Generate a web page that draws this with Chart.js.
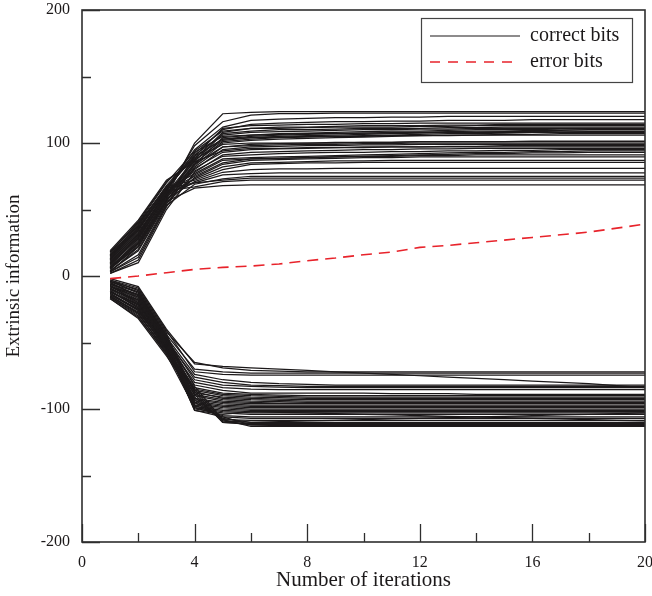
<!DOCTYPE html>
<html>
<head>
<meta charset="utf-8">
<script src="https://cdn.jsdelivr.net/npm/chart.js@4.4.1/dist/chart.umd.min.js"></script>
<style>
  html, body { margin: 0; padding: 0; background: #ffffff; }
  #wrap { width: 652px; height: 596px; }
</style>
</head>
<body>
<div id="wrap"><canvas id="c" width="652" height="596"></canvas></div>
<script>
// Iteration index shared by every trace
const iterations = [1,2,3,4,5,6,7,8,9,10,11,12,13,14,15,16,17,18,19,20];

// Extrinsic information of bits decoded correctly, positive side
const correctPositive = [
  [5,25,60,100,122,123,123.5,123.5,123.5,123.5,123.5,123.5,123.5,123.5,123.5,123.5,123.5,123.5,123.5,123.5],
  [8,30,63,98,116,121,122,122,122.5,122.5,122.5,122.5,122.5,122.5,122.5,122.5,122.5,122.5,122.5,122.5],
  [12,34,66,95,112,117,118,118.5,119,119,119.5,119.5,120,120,120,120,120,120,120,120],
  [15,38,68,92,110,114,115,115.5,116,116,116.5,116.5,117,117,117,117.5,117.5,117.5,117.5,117.5],
  [3,22,58,90,111,113,113.5,114,114,114.5,114.5,115,115,115,115,115,115,115,115,115],
  [10,32,62,88,108,111,112,112,112.5,113,113,113,113.5,113.5,114,114,114,114,114,114],
  [18,40,70,94,109,111,111,111.5,112,112,112,112.5,112.5,113,113,113,113,113,113,113],
  [6,27,61,86,107,109,110,110,110.5,111,111,111,111.5,111.5,112,112,112,112,112,112],
  [13,36,65,91,106,108,108.5,109,109.5,110,110,110.5,110.5,111,111,111,111,111,111,111],
  [2,12,52,84,104,106,107,107.5,108,108.5,109,109,109.5,110,110,110,110.5,110.5,110.5,110.5],
  [16,39,67,89,103,105,106,106.5,107,107.5,108,108,108.5,109,109,109.5,109.5,110,110,110],
  [9,29,60,87,102,104,105,105.5,106,106.5,107,107.5,108,108,108.5,108.5,109,109,109,109],
  [4,20,56,85,101,103,104,104.5,105,105.5,106,106.5,107,107,107.5,108,108,108.5,108.5,108.5],
  [11,31,64,93,105,106,106.5,107,107,107.5,107.5,108,108,108,108,108,108,108,108,108],
  [7,26,59,83,100,102,103,103.5,104,104.5,105,105.5,106,106,106.5,106.5,107,107,107,107],
  [14,37,66,90,103,104,104.5,105,105,105,105.5,105.5,105.5,106,106,106,106,106,106,106],
  [3,16,54,82,97,99,99.5,100,100,100.5,100.5,101,101,101,101,101.5,101.5,101.5,101.5,101.5],
  [17,41,71,88,99,100,100,100,100.5,100.5,100.5,101,101,101,101,101,101,101,101,101],
  [8,28,61,84,97,98,98.5,99,99,99.5,99.5,100,100,100,100,100,100,100,100,100],
  [12,33,63,80,95,97,97.5,98,98,98.5,98.5,99,99,99,99,99,99,99,99,99],
  [5,23,57,81,93,95,95.5,96,96.5,96.5,97,97,97.5,97.5,98,98,98,98,98,98],
  [19,42,72,86,94,96,96,96.5,96.5,97,97,97,97,97,97,97,97,97,97,97],
  [2,10,50,78,91,93,93.5,94,94.5,95,95,95.5,95.5,96,96,96,96,96,96,96],
  [10,30,62,79,90,91,92,92.5,93,93,93.5,93.5,94,94,94.5,94.5,95,95,95,95],
  [15,36,65,77,88,89,89.5,90,90.5,91,91.5,92,92.5,93,93,93.5,93.5,94,94,94],
  [6,24,57,76,87,88,88.5,89,89.5,90,90.5,91,91.5,92,92,92.5,92.5,93,93,93],
  [13,35,64,75,85,88,88.5,89,89.5,90,90,90.5,90.5,91,91,91,91,91,91,91],
  [4,19,55,74,84,87,87.5,88,88.5,89,89,89.5,89.5,89.5,89.5,89.5,89.5,89.5,89.5,89.5],
  [9,29,60,73,82,85,85.5,86,86.5,86.5,87,87,87,87,87,87,87,87,87,87],
  [16,38,67,72,80,84,84.5,85,85,85.5,85.5,85.5,85.5,85.5,85.5,85.5,85.5,85.5,85.5,85.5],
  [7,25,58,71,78,80,80.5,80.5,81,81,81,81,81,81,81,81,81,81,81,81],
  [11,32,62,70,76,77,77.5,77.5,77.5,77.5,77.5,77.5,77.5,77.5,77.5,77.5,77.5,77.5,77.5,77.5],
  [3,14,53,69,73,75,75,75,75,75,75,75,75,75,75,75,75,75,75,75],
  [18,40,66,70,72,73.5,73.5,73.5,73.5,73.5,73.5,73.5,73.5,73.5,73.5,73.5,73.5,73.5,73.5,73.5],
  [14,35,64,67,71,72,72,72,72,72,72,72,72,72,72,72,72,72,72,72],
  [6,22,56,66,68,68.5,68.5,68.5,68.5,68.5,68.5,68.5,68.5,68.5,68.5,68.5,68.5,68.5,68.5,68.5]
];

// Extrinsic information of bits decoded correctly, negative side
const correctNegative = [
  [-2,-8,-40,-66,-68,-69,-70,-71,-72,-73,-74,-75,-76,-77,-78,-79,-80,-81,-82.5,-84],
  [-4,-10,-42,-65,-69,-71,-71.5,-72,-72,-72,-72,-72,-72,-72,-72,-72,-72,-72,-72,-72],
  [-6,-12,-44,-70,-72,-73,-73,-73,-73,-73,-73,-73,-73,-73,-73,-73,-73,-73,-73,-73],
  [-3,-9,-41,-72,-74,-74.5,-74.5,-74.5,-74.5,-74.5,-74.5,-74.5,-74.5,-74.5,-74.5,-74.5,-74.5,-74.5,-74.5,-74.5],
  [-8,-14,-46,-74,-78,-80,-81,-81.5,-82,-82,-82,-82,-82,-82,-82,-82,-82,-82,-82,-82],
  [-10,-18,-48,-76,-80,-82,-82.5,-83,-83,-83,-83,-83,-83,-83,-83,-83,-83,-83,-83,-83],
  [-5,-16,-47,-78,-82,-83,-83.5,-84,-84,-84,-84,-84,-84,-84,-84,-84,-84,-84,-84,-84],
  [-12,-22,-50,-80,-84,-85,-85.5,-85.5,-85.5,-85.5,-85.5,-85.5,-85.5,-85.5,-85.5,-85.5,-85.5,-85.5,-85.5,-85.5],
  [-7,-20,-49,-82,-86,-88,-88,-88,-88,-88,-88.5,-88.5,-88.5,-89,-89,-89,-89,-89,-89,-89],
  [-14,-25,-52,-84,-88,-89,-89.5,-90,-90,-90,-90,-90,-90,-90,-90,-90,-90,-90,-90,-90],
  [-9,-21,-51,-85,-89,-90,-90.5,-91,-91,-91,-91,-91,-91,-91,-91,-91,-91,-91,-91,-91],
  [-15,-27,-54,-86,-90,-91,-91.5,-92,-92,-92,-92,-92,-92,-92,-92,-92,-92,-92,-92,-92],
  [-4,-13,-45,-88,-91,-92,-92.5,-93,-93,-93,-93,-93,-93,-93,-93,-93,-93,-93,-93,-93],
  [-11,-24,-53,-87,-92,-93,-93.5,-94,-94,-94,-94,-94,-94,-94,-94,-94,-94,-94,-94,-94],
  [-16,-29,-56,-89,-93,-94,-94.5,-95,-95,-95,-95,-95,-95,-95,-95,-95,-95,-95,-95,-95],
  [-6,-17,-48,-90,-94,-95,-95.5,-95.5,-95.5,-95.5,-95.5,-95.5,-95.5,-95.5,-95.5,-95.5,-95.5,-95.5,-95.5,-95.5],
  [-13,-26,-55,-92,-95,-96,-96,-96,-96,-96,-96,-96,-96,-96,-96,-96,-96,-96,-96,-96],
  [-17,-31,-58,-93,-96,-97,-97,-97,-97,-97,-97,-97,-97,-97,-97,-97,-97,-97,-97,-97],
  [-8,-19,-50,-94,-97,-98,-98,-98,-98,-98,-98,-98,-98,-98,-98,-98,-98,-98,-98,-98],
  [-3,-11,-43,-95,-98,-99,-99,-99,-99,-99,-99,-99,-99,-99,-99,-99,-99,-99,-99,-99],
  [-12,-23,-53,-96,-99,-100,-100,-100,-100,-100,-100,-100,-100,-100,-100,-100,-100,-100,-100,-100],
  [-15,-28,-57,-97,-100,-101,-101,-101,-101,-101,-101,-101,-101,-101,-101,-101,-101,-101,-101,-101],
  [-9,-20,-51,-98,-101,-102,-102,-102,-102,-102,-102,-102,-102,-102,-102,-102,-102,-102,-102,-102],
  [-5,-15,-47,-99,-102,-103,-103,-103,-103,-103,-103,-103,-103,-103,-103,-103,-103,-103,-103,-103],
  [-14,-26,-55,-100,-103,-104,-104,-104,-104,-104,-104,-104,-104,-104,-104,-104,-104,-104,-104,-104],
  [-10,-22,-52,-101,-104,-102,-102.5,-103,-103.5,-104,-104.5,-105,-105.5,-106,-106.5,-107,-107.5,-108,-108.5,-109],
  [-16,-30,-59,-99,-105,-106,-106,-106,-106,-106,-106,-106,-106,-106,-106,-106,-106,-106,-106,-106],
  [-7,-18,-49,-97,-106,-107,-107,-107,-107,-107,-107,-107,-107,-107,-107,-107,-107,-107,-107,-107],
  [-13,-25,-56,-95,-107,-110,-109.5,-109,-108.5,-108,-107.5,-107,-106.5,-106,-105.5,-105,-104.5,-104,-103.5,-103],
  [-4,-12,-45,-93,-108,-108.5,-108.5,-108.5,-108.5,-108.5,-108.5,-108.5,-108.5,-108.5,-108.5,-108.5,-108.5,-108.5,-108.5,-108.5],
  [-17,-32,-60,-91,-109,-110,-110,-110,-110,-110,-110,-110,-110,-110,-110,-110,-110,-110,-110,-110],
  [-11,-24,-54,-89,-110,-111,-111,-111,-111,-111,-111,-111,-111,-111,-111,-111,-111,-111,-111,-111],
  [-8,-16,-48,-87,-110,-111.5,-111.5,-111.5,-111.5,-111.5,-111.5,-111.5,-111.5,-111.5,-111.5,-111.5,-111.5,-111.5,-111.5,-111.5],
  [-15,-28,-58,-85,-109,-112,-112,-112,-112,-112,-112,-112,-112,-112,-112,-112,-112,-112,-112,-112],
  [-6,-14,-46,-83,-108,-113,-113,-113,-113,-113,-113,-113,-113,-113,-113,-113,-113,-113,-113,-113],
  [-12,-21,-53,-101,-106,-112,-112.5,-112.5,-112.5,-112.5,-112.5,-112.5,-112.5,-112.5,-112.5,-112.5,-112.5,-112.5,-112.5,-112.5]
];

// Extrinsic information of bits in error
const errorBits = [-2,0,2.5,5,6.5,7.5,9,11.5,13.5,16,18,21.5,23,25,27,29,31,33,36,39];

// Axis ticks
const xMajorTicks = [0,4,8,12,16,20];
const xMinorTicks = [2,6,10,14,18];
const yMajorTicks = [-200,-100,0,100,200];
const yMinorTicks = [-150,-50,50,150];

const legendLabels = ['correct bits', 'error bits'];
const xTitle = 'Number of iterations';
const yTitle = 'Extrinsic information';

const INK = '#1c191a';
const RED = '#e8232b';
const SERIF = '"Liberation Serif", "Times New Roman", serif';

const toPoints = vals => vals.map((v, i) => ({ x: iterations[i], y: v }));

const datasets = [];
datasets.push({
  label: legendLabels[1],
  data: toPoints(errorBits),
  borderColor: RED,
  borderWidth: 1.6,
  borderDash: [11, 7],
  pointRadius: 0,
  order: 0
});
correctPositive.concat(correctNegative).forEach(run => {
  datasets.push({
    label: legendLabels[0],
    data: toPoints(run),
    borderColor: INK,
    borderWidth: 1.25,
    pointRadius: 0,
    order: 1
  });
});

// Box frame, inward tick marks and the inset legend
const framePlugin = {
  id: 'frame',
  afterDraw(chart) {
    const { ctx, chartArea: a, scales: { x, y } } = chart;
    ctx.save();
    ctx.strokeStyle = '#2e2e2e';
    ctx.lineWidth = 1.3;
    ctx.beginPath();
    const tick = (arr, len, horiz) => arr.forEach(v => {
      if (horiz) {
        const px = Math.round(x.getPixelForValue(v)) + 0.5;
        ctx.moveTo(px, a.bottom); ctx.lineTo(px, a.bottom - len);
      } else {
        const py = Math.round(y.getPixelForValue(v)) + 0.5;
        ctx.moveTo(a.left, py); ctx.lineTo(a.left + len, py);
      }
    });
    tick(xMajorTicks, 18, true);
    tick(xMinorTicks, 9, true);
    tick(yMajorTicks, 18, false);
    tick(yMinorTicks, 9, false);
    ctx.stroke();

    ctx.lineWidth = 1.6;
    ctx.strokeRect(a.left, a.top, a.right - a.left, a.bottom - a.top);

    // legend
    const bx = a.right - 224, by = a.top + 8, bw = 211, bh = 64;
    ctx.fillStyle = '#ffffff';
    ctx.fillRect(bx, by, bw, bh);
    ctx.lineWidth = 1.2;
    ctx.strokeStyle = '#444444';
    ctx.strokeRect(bx + 0.5, by + 0.5, bw, bh);

    const rows = [by + 18, by + 44];
    ctx.lineWidth = 1.2;
    ctx.strokeStyle = INK;
    ctx.beginPath();
    ctx.moveTo(bx + 9, rows[0]); ctx.lineTo(bx + 99, rows[0]);
    ctx.stroke();
    ctx.strokeStyle = RED;
    ctx.lineWidth = 1.5;
    ctx.setLineDash([10, 8]);
    ctx.beginPath();
    ctx.moveTo(bx + 9, rows[1]); ctx.lineTo(bx + 99, rows[1]);
    ctx.stroke();
    ctx.setLineDash([]);

    ctx.fillStyle = INK;
    ctx.font = '20px ' + SERIF;
    ctx.textBaseline = 'middle';
    ctx.textAlign = 'left';
    ctx.fillText(legendLabels[0], bx + 109, rows[0]);
    ctx.fillText(legendLabels[1], bx + 109, rows[1]);
    ctx.restore();
  }
};

new Chart(document.getElementById('c'), {
  type: 'line',
  data: { datasets },
  options: {
    responsive: false,
    animation: false,
    events: [],
    layout: { padding: { top: 10, right: 7, left: 0, bottom: 0 } },
    plugins: { legend: { display: false }, tooltip: { enabled: false } },
    elements: { line: { tension: 0 } },
    scales: {
      x: {
        type: 'linear',
        min: 0, max: 20,
        grid: { display: false, drawTicks: false },
        border: { display: false },
        ticks: {
          stepSize: 4,
          padding: 11,
          color: INK,
          font: { family: SERIF, size: 16 },
          maxRotation: 0
        },
        title: {
          display: true,
          text: xTitle,
          color: INK,
          font: { family: SERIF, size: 21 },
          padding: { top: 0, bottom: 3 }
        },
        afterFit(scale) { scale.height = 54; scale.paddingLeft = 0; scale.paddingRight = 0; }
      },
      y: {
        type: 'linear',
        min: -200, max: 200,
        grid: { display: false, drawTicks: false },
        border: { display: false },
        ticks: {
          stepSize: 100,
          padding: 12,
          color: INK,
          font: { family: SERIF, size: 16 }
        },
        title: {
          display: true,
          text: yTitle,
          color: INK,
          font: { family: SERIF, size: 19 },
          padding: { top: 3, bottom: 0 }
        },
        afterFit(scale) { scale.width = 82; scale.paddingTop = 0; scale.paddingBottom = 0; }
      }
    }
  },
  plugins: [framePlugin]
});
</script>
</body>
</html>
